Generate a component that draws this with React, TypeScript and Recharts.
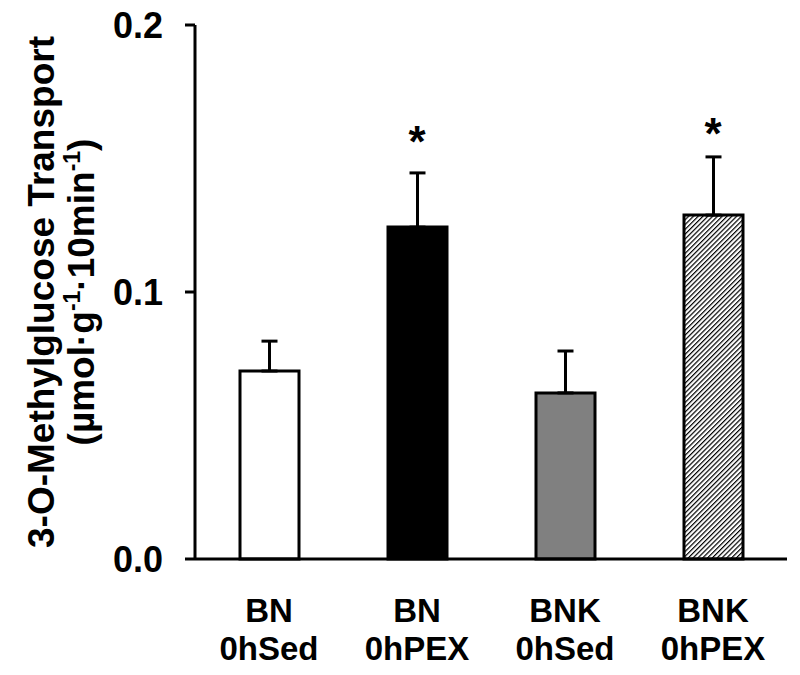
import { ComposedChart, Bar, Cell, ErrorBar, Scatter, XAxis, YAxis } from 'recharts';

if (typeof document !== 'undefined') document.body.style.margin = '0';

const strains = ['BN', 'BN', 'BNK', 'BNK'];
const groups = ['0hSed', '0hPEX', '0hSed', '0hPEX'];
const means = [0.0704, 0.1243, 0.0622, 0.1288];
const sems = [0.0112, 0.0203, 0.0157, 0.0218];
const stars = [null, 0.1603, null, 0.1633];
const fills = ['#ffffff', '#000000', '#808080', 'url(#hatch)'];
const yTicks = [0, 0.1, 0.2];

const data = means.map((m, i) => ({
  name: `${strains[i]} ${groups[i]}`,
  strain: strains[i],
  group: groups[i],
  mean: m,
  err: [0, sems[i]],
  star: stars[i],
}));

const font = 'Arial, "Liberation Sans", sans-serif';

const XTick = (props: any) => {
  const { x, y, index } = props;
  return (
    <text x={x} y={y} textAnchor="middle" fontFamily={font} fontWeight="bold" fontSize={33} fill="#000">
      <tspan x={x} dy={63}>{strains[index]}</tspan>
      <tspan x={x} dy={38}>{groups[index]}</tspan>
    </text>
  );
};

const YLabel = (props: any) => {
  const vb = props.viewBox;
  const cy = vb.y + vb.height / 2;
  const x1 = 54;
  const x2 = 94;
  return (
    <g fontFamily={font} fontWeight="bold" fontSize={37} fill="#000">
      <text x={x1} y={cy} textAnchor="middle" transform={`rotate(-90, ${x1}, ${cy})`}>
        3-O-Methylglucose Transport
      </text>
      <text x={x2} y={cy} textAnchor="middle" transform={`rotate(-90, ${x2}, ${cy})`}>
        (µmol·g<tspan dy={-14} fontSize={23}>-1</tspan>
        <tspan dy={14}>·10min</tspan>
        <tspan dy={-14} fontSize={23}>-1</tspan>
        <tspan dy={14}>)</tspan>
      </text>
    </g>
  );
};

const Star = (props: any) => {
  const { cx, cy, payload } = props;
  if (payload == null || payload.star == null) return null;
  return (
    <text x={cx} y={cy + 26} textAnchor="middle" fontFamily={font} fontWeight="bold" fontSize={44} fill="#000">
      *
    </text>
  );
};

export default function App() {
  return (
    <ComposedChart
      width={800}
      height={675}
      data={data}
      margin={{ top: 25, right: 13, left: 45, bottom: 0 }}
      barSize={59}
    >
      <defs>
        {/* fine diagonal hatch for the last bar */}
        <pattern id="hatch" width="3.4" height="3.4" patternUnits="userSpaceOnUse" patternTransform="rotate(45)">
          <rect width="3.4" height="3.4" fill="#ffffff" />
          <line x1="0" y1="0" x2="0" y2="3.4" stroke="#000" strokeWidth="2.4" />
        </pattern>
      </defs>
      <XAxis
        dataKey="name"
        height={116}
        axisLine={{ stroke: '#000', strokeWidth: 3 }}
        tickLine={false}
        tickSize={0}
        tickMargin={0}
        tick={<XTick />}
        interval={0}
      />
      <YAxis
        width={150}
        domain={[0, 0.2]}
        ticks={yTicks}
        interval={0}
        tickFormatter={(v: number) => v.toFixed(1)}
        axisLine={{ stroke: '#000', strokeWidth: 3 }}
        tickLine={{ stroke: '#000', strokeWidth: 3 }}
        tickSize={10}
        tickMargin={22}
        tick={{ fill: '#000', fontSize: 36, fontWeight: 'bold', fontFamily: font }}
        label={{ content: <YLabel /> }}
      />
      <Bar dataKey="mean" stroke="#000" strokeWidth={3} isAnimationActive={false}>
        {data.map((d, i) => (
          <Cell key={d.name} fill={fills[i]} />
        ))}
        <ErrorBar dataKey="err" width={8} stroke="#000" strokeWidth={3} />
      </Bar>
      <Scatter dataKey="star" shape={<Star />} isAnimationActive={false} />
    </ComposedChart>
  );
}
